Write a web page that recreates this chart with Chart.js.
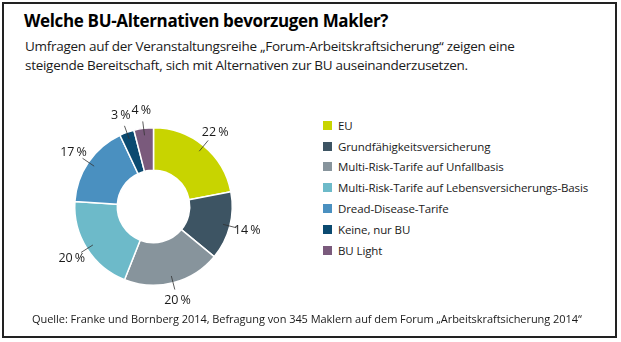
<!DOCTYPE html>
<html lang="de">
<head>
<meta charset="utf-8">
<script src="https://cdn.jsdelivr.net/npm/chart.js@4/dist/chart.umd.min.js"></script>
<style>
  html, body { margin: 0; padding: 0; background: #fff; }
  body { width: 621px; height: 342px; position: relative; overflow: hidden; font-family: "Open Sans", "Noto Sans", sans-serif; color: #1a1a1a; }
  .frame { position: absolute; left: 2px; top: 2px; width: 611px; height: 332px; border: 2px solid #222; }
  .title { position: absolute; left: 24px; top: 9px; font-size: 17px; font-weight: 700; color: #000; letter-spacing: -0.35px; white-space: nowrap; }
  .sub { position: absolute; left: 25px; top: 37px; font-size: 13.5px; line-height: 18.5px; letter-spacing: -0.28px; white-space: nowrap; }
  .source { position: absolute; left: 32px; top: 311px; font-size: 11px; letter-spacing: -0.05px; white-space: nowrap; }
  #legend { position: absolute; left: 323px; top: 115px; }
  .li { height: 20.8px; display: flex; align-items: center; font-size: 11.5px; letter-spacing: -0.1px; white-space: nowrap; }
  .sw { width: 9px; height: 9px; margin-right: 6px; }
  #pie { position: absolute; left: 0; top: 90px; }
</style>
</head>
<body>
<div class="frame"></div>
<div class="title">Welche BU-Alternativen bevorzugen Makler?</div>
<div class="sub">Umfragen auf der Veranstaltungsreihe „Forum-Arbeitskraftsicherung“ zeigen eine<br>steigende Bereitschaft, sich mit Alternativen zur BU auseinanderzusetzen.</div>
<canvas id="pie" width="310" height="240"></canvas>
<div id="legend"></div>
<div class="source">Quelle: Franke und Bornberg 2014, Befragung von 345 Maklern auf dem Forum „Arbeitskraftsicherung 2014“</div>
<script>
const categories = ['EU', 'Grundfähigkeitsversicherung', 'Multi-Risk-Tarife auf Unfallbasis',
  'Multi-Risk-Tarife auf Lebensversicherungs-Basis', 'Dread-Disease-Tarife', 'Keine, nur BU', 'BU Light'];
const shares = [22, 14, 20, 20, 17, 3, 4];
const colors = ['#c8d400', '#3d5463', '#87949c', '#6dbac9', '#4a90c0', '#0b4a70', '#7a5a7c'];

// legend
const legendEl = document.getElementById('legend');
categories.forEach((c, i) => {
  legendEl.innerHTML += `<div class="li"><span class="sw" style="background:${colors[i]}"></span>${c}</div>`;
});

// percentage labels with leader lines
const sliceLabels = {
  id: 'sliceLabels',
  afterDatasetsDraw(chart) {
    const ctx = chart.ctx;
    const meta = chart.getDatasetMeta(0);
    ctx.save();
    ctx.strokeStyle = '#333';
    ctx.lineWidth = 0.8;
    ctx.fillStyle = '#1a1a1a';
    ctx.font = '12.5px "Open Sans", sans-serif';
    ctx.textAlign = 'center';
    ctx.textBaseline = 'middle';
    meta.data.forEach((arc, i) => {
      const { x, y, startAngle, endAngle, outerRadius } = arc.getProps(['x', 'y', 'startAngle', 'endAngle', 'outerRadius'], true);
      const a = (startAngle + endAngle) / 2;
      const c = Math.cos(a), s = Math.sin(a);
      const r1 = outerRadius - 7, r2 = outerRadius + 7, r3 = outerRadius + 18;
      ctx.beginPath();
      ctx.moveTo(x + c * r1, y + s * r1);
      ctx.lineTo(x + c * r2, y + s * r2);
      ctx.stroke();
      ctx.fillText(shares[i] + '\u2009%', x + c * r3, y + s * r3);
    });
    ctx.restore();
  }
};

new Chart(document.getElementById('pie'), {
  type: 'doughnut',
  data: {
    labels: categories,
    datasets: [{
      data: shares,
      backgroundColor: colors,
      borderColor: '#ffffff',
      borderWidth: 1.5
    }]
  },
  options: {
    responsive: false,
    animation: false,
    events: [],
    cutout: '46%',
    layout: { padding: { left: 74, right: 77, top: 37, bottom: 44 } },
    plugins: {
      legend: { display: false },
      tooltip: { enabled: false }
    }
  },
  plugins: [sliceLabels]
});
</script>
</body>
</html>
